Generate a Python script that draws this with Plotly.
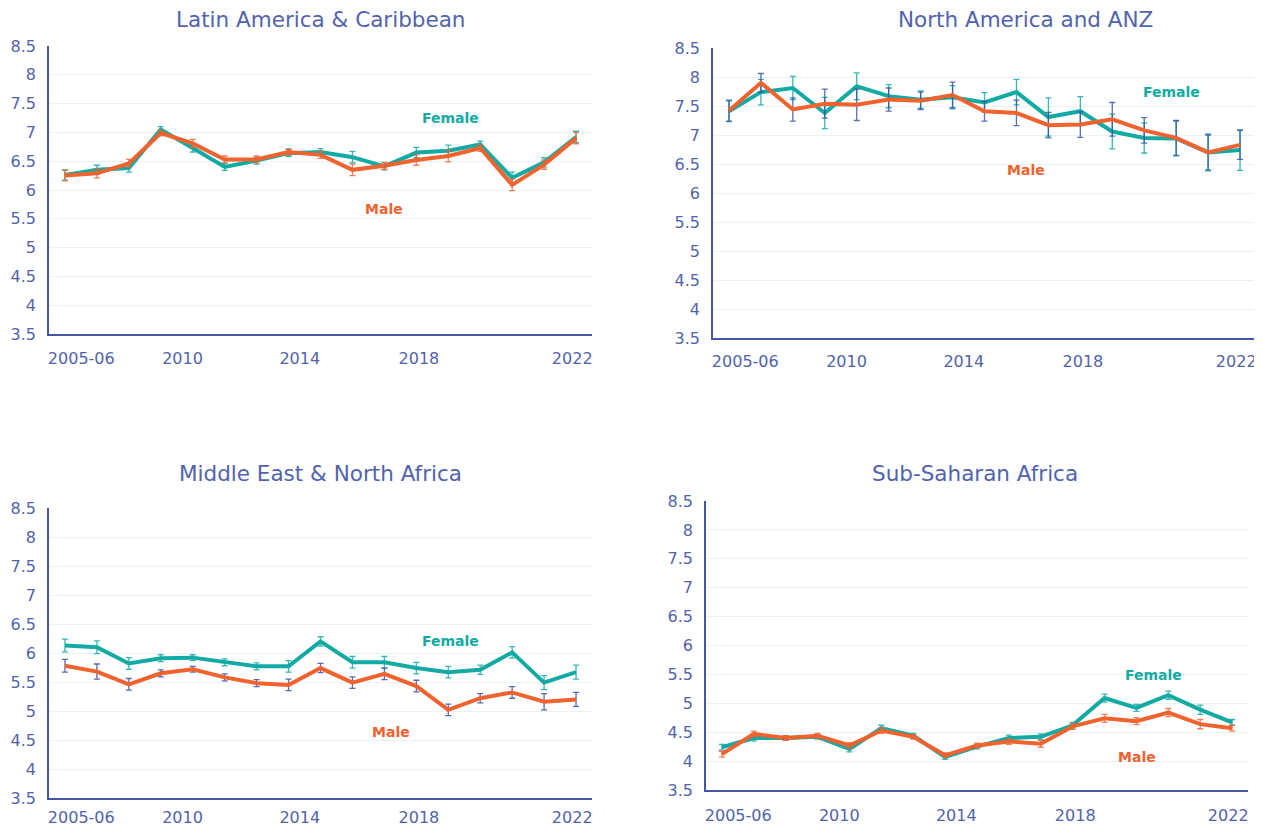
import plotly.graph_objects as go

years = ["2005-06"] + [str(y) for y in range(2007, 2023)]
tick_labels = ["2005-06", "2010", "2014", "2018", "2022"]
tick_pos = [0.51, 3.68, 7.35, 11.08, 15.88]
y_ticks = [3.5, 4, 4.5, 5, 5.5, 6, 6.5, 7, 7.5, 8, 8.5]
y_tick_text = ["3.5", "4", "4.5", "5", "5.5", "6", "6.5", "7", "7.5", "8", "8.5"]

titles = ["Latin America & Caribbean", "North America and ANZ",
          "Middle East & North Africa", "Sub-Saharan Africa"]

lac_female = [6.26, 6.35, 6.38, 7.05, 6.73, 6.40, 6.51, 6.64, 6.66, 6.57, 6.41, 6.65, 6.68, 6.79, 6.21, 6.48, 6.92]
lac_male = [6.25, 6.29, 6.46, 6.99, 6.81, 6.53, 6.53, 6.66, 6.61, 6.35, 6.42, 6.52, 6.59, 6.73, 6.09, 6.44, 6.90]
lac_female_err = [0.09, 0.08, 0.07, 0.05, 0.07, 0.06, 0.06, 0.06, 0.06, 0.10, 0.06, 0.09, 0.10, 0.06, 0.10, 0.08, 0.10]
lac_male_err = [0.09, 0.08, 0.07, 0.05, 0.07, 0.06, 0.06, 0.06, 0.06, 0.10, 0.06, 0.09, 0.10, 0.06, 0.10, 0.08, 0.10]

nam_female = [7.41, 7.74, 7.81, 7.38, 7.84, 7.67, 7.61, 7.65, 7.56, 7.74, 7.31, 7.41, 7.06, 6.95, 6.94, 6.70, 6.74]
nam_male = [7.42, 7.90, 7.44, 7.54, 7.52, 7.61, 7.59, 7.69, 7.41, 7.38, 7.17, 7.18, 7.27, 7.08, 6.95, 6.70, 6.83]
nam_female_err = [0.18, 0.22, 0.20, 0.27, 0.23, 0.20, 0.15, 0.20, 0.17, 0.22, 0.33, 0.25, 0.30, 0.26, 0.30, 0.32, 0.35]
nam_male_err = [0.18, 0.16, 0.20, 0.25, 0.27, 0.20, 0.15, 0.22, 0.17, 0.22, 0.22, 0.22, 0.29, 0.22, 0.30, 0.30, 0.25]

mena_female = [6.13, 6.10, 5.82, 5.91, 5.92, 5.84, 5.77, 5.77, 6.20, 5.84, 5.84, 5.74, 5.67, 5.71, 6.01, 5.49, 5.67]
mena_male = [5.78, 5.68, 5.46, 5.65, 5.72, 5.58, 5.48, 5.45, 5.74, 5.49, 5.64, 5.43, 5.02, 5.22, 5.32, 5.16, 5.20]
mena_female_err = [0.11, 0.11, 0.10, 0.06, 0.05, 0.06, 0.06, 0.10, 0.08, 0.10, 0.10, 0.10, 0.10, 0.08, 0.10, 0.12, 0.12]
mena_male_err = [0.11, 0.13, 0.10, 0.06, 0.05, 0.06, 0.06, 0.10, 0.08, 0.10, 0.10, 0.10, 0.10, 0.08, 0.10, 0.14, 0.12]

ssa_female = [4.24, 4.40, 4.40, 4.42, 4.21, 4.57, 4.44, 4.07, 4.25, 4.40, 4.42, 4.62, 5.09, 4.92, 5.14, 4.89, 4.67]
ssa_male = [4.12, 4.47, 4.40, 4.44, 4.27, 4.53, 4.42, 4.10, 4.27, 4.34, 4.30, 4.60, 4.74, 4.69, 4.84, 4.64, 4.57]
ssa_female_err = [0.05, 0.05, 0.04, 0.04, 0.05, 0.05, 0.04, 0.04, 0.04, 0.05, 0.05, 0.05, 0.07, 0.06, 0.07, 0.08, 0.05]
ssa_male_err = [0.05, 0.05, 0.04, 0.04, 0.05, 0.05, 0.04, 0.04, 0.04, 0.05, 0.06, 0.05, 0.07, 0.06, 0.07, 0.08, 0.05]

TEAL = "#14aaa4"
ORANGE = "#f0622e"
INDIGO = "#4656a6"
TEXT = "#5263ad"
GRID = "#e9f1f1"
FONT = "DejaVu Sans"

# page body has an 8px margin; pixel positions below are page coordinates
OFF = 8
W, H = 1262 - OFF, 826 - OFF

panels = [
    dict(f=lac_female, m=lac_male, fe=lac_female_err, me=lac_male_err,
         fec="rgba(20,170,164,0.85)", mec="rgba(240,98,46,0.8)",
         dom_x=[49, 592], dom_y=[46, 334], title_x=320, title_y=20,
         xstand=9, fl=(12.08, 7.25), ml=(10.0, 5.67)),
    dict(f=nam_female, m=nam_male, fe=nam_female_err, me=nam_male_err,
         fec="rgba(20,170,164,0.85)", mec="rgba(50,75,160,0.8)",
         dom_x=[713, 1256], dom_y=[48, 338], title_x=1025, title_y=20,
         xstand=8, fl=(13.86, 7.74), ml=(9.31, 6.40)),
    dict(f=mena_female, m=mena_male, fe=mena_female_err, me=mena_male_err,
         fec="rgba(20,170,164,0.85)", mec="rgba(60,80,165,0.85)",
         dom_x=[49, 592], dom_y=[508, 798], title_x=320, title_y=473,
         xstand=4, fl=(12.08, 6.21), ml=(10.2, 4.64)),
    dict(f=ssa_female, m=ssa_male, fe=ssa_female_err, me=ssa_male_err,
         fec="rgba(20,170,164,0.85)", mec="rgba(240,98,46,0.8)",
         dom_x=[706, 1248], dom_y=[501, 790], title_x=975, title_y=473,
         xstand=10, fl=(13.53, 5.49), ml=(13.03, 4.07)),
]


def px_x(v):
    return (v - OFF) / W


def px_y(v):
    return 1 - (v - OFF) / H


xs = list(range(len(years)))
fig = go.Figure()
annotations = []

for i, p in enumerate(panels):
    sfx = "" if i == 0 else str(i + 1)
    xa, ya = "x" + sfx, "y" + sfx
    fig.add_trace(go.Scatter(
        x=xs, y=p["f"], mode="lines", name="Female", xaxis=xa, yaxis=ya,
        line=dict(color=TEAL, width=4),
        error_y=dict(type="data", array=p["fe"], visible=True,
                     color=p["fec"], thickness=1.3, width=3),
        showlegend=False))
    fig.add_trace(go.Scatter(
        x=xs, y=p["m"], mode="lines", name="Male", xaxis=xa, yaxis=ya,
        line=dict(color=ORANGE, width=4),
        error_y=dict(type="data", array=p["me"], visible=True,
                     color=p["mec"], thickness=1.3, width=3),
        showlegend=False))

    dx = [px_x(p["dom_x"][0]), px_x(p["dom_x"][1])]
    dy = [px_y(p["dom_y"][1]), px_y(p["dom_y"][0])]
    fig.update_layout(**{
        "xaxis" + sfx: dict(domain=dx, anchor=ya, range=[-0.5, len(years) - 0.5],
                            tickvals=tick_pos, ticktext=tick_labels,
                            showgrid=False, zeroline=False, showline=True,
                            linecolor=INDIGO, linewidth=1.5, ticks="",
                            ticklabelstandoff=p["xstand"], automargin=False,
                            tickfont=dict(family=FONT, size=16, color=TEXT)),
        "yaxis" + sfx: dict(domain=dy, anchor=xa, range=[3.5, 8.5],
                            tickvals=y_ticks, ticktext=y_tick_text,
                            showgrid=True, gridcolor=GRID, gridwidth=1.2,
                            zeroline=False, showline=True, linecolor=INDIGO,
                            linewidth=1.5, ticks="", ticklabelstandoff=8,
                            automargin=False,
                            tickfont=dict(family=FONT, size=16, color=TEXT)),
    })
    annotations.append(dict(text=titles[i], x=px_x(p["title_x"]), y=px_y(p["title_y"]),
                            xref="paper", yref="paper", showarrow=False,
                            xanchor="center", yanchor="middle",
                            font=dict(family=FONT, size=21.5, color=TEXT)))
    annotations.append(dict(text="<b>Female</b>", x=p["fl"][0], y=p["fl"][1],
                            xref=xa, yref=ya, showarrow=False,
                            font=dict(family=FONT, size=14, color=TEAL)))
    annotations.append(dict(text="<b>Male</b>", x=p["ml"][0], y=p["ml"][1],
                            xref=xa, yref=ya, showarrow=False,
                            font=dict(family=FONT, size=14, color=ORANGE)))

fig.update_layout(width=W, height=H, margin=dict(l=0, r=0, t=0, b=0),
                  paper_bgcolor="white", plot_bgcolor="white",
                  annotations=annotations)

fig.write_html("out.html")
